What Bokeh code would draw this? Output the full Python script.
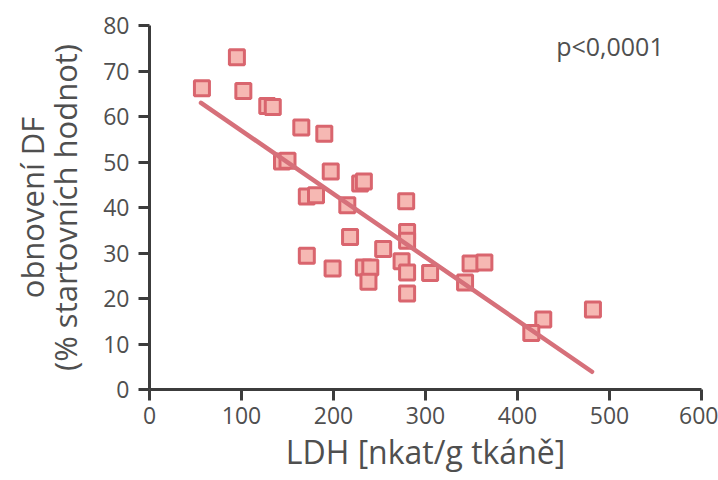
from bokeh.plotting import figure
from bokeh.models import Label, Range1d, FixedTicker
from bokeh.embed import file_html
from bokeh.resources import INLINE

# LDH [nkat/g tkáně]
ldh = [57, 95, 102, 128, 134, 165, 190, 144, 150, 197, 229, 233, 279, 171, 181,
       215, 280, 280, 218, 171, 199, 254, 233, 240, 238, 274, 280, 280, 305, 349,
       364, 343, 428, 415, 482]
# obnovení DF (% startovních hodnot)
df = [66.2, 73.0, 65.6, 62.3, 62.1, 57.6, 56.2, 50.1, 50.3, 47.9, 45.3, 45.7, 41.4, 42.4, 42.7,
      40.5, 34.6, 32.7, 33.5, 29.4, 26.6, 30.9, 26.8, 26.8, 23.7, 28.2, 25.7, 21.1, 25.6, 27.7,
      27.9, 23.5, 15.4, 12.4, 17.6]

# regression line end points
fit_x = [56, 481]
fit_y = [63.0, 3.9]

x_ticks = [0, 100, 200, 300, 400, 500, 600]
y_ticks = [0, 10, 20, 30, 40, 50, 60, 70, 80]

FONT = "Open Sans"
AX = "#3c3c3c"
TXT = "#4f4f4f"

p = figure(width=718, height=480, output_backend="svg", toolbar_location=None,
           x_range=Range1d(0, 600), y_range=Range1d(0, 80),
           min_border_left=149, min_border_right=17, min_border_top=25, min_border_bottom=91)
p.outline_line_color = None
p.xgrid.visible = False
p.ygrid.visible = False
p.background_fill_color = "white"
p.border_fill_color = "white"

p.scatter(ldh, df, marker="square", size=15, line_width=3,
          line_color="#d9656e", fill_color="#f6b8b3")
p.line(fit_x, fit_y, line_width=4.5, line_color="#d6707a", line_cap="round")

for ax in (p.xaxis[0], p.yaxis[0]):
    ax.axis_line_color = AX
    ax.axis_line_width = 3
    ax.major_tick_line_color = AX
    ax.major_tick_line_width = 3
    ax.major_tick_out = 11
    ax.major_tick_in = 0
    ax.minor_tick_line_color = None
    ax.major_label_text_font = FONT
    ax.major_label_text_font_size = "23px"
    ax.major_label_text_color = TXT
    ax.axis_label_text_font = FONT
    ax.axis_label_text_font_style = "normal"
    ax.axis_label_text_color = TXT

p.xaxis.ticker = FixedTicker(ticks=x_ticks)
p.yaxis.ticker = FixedTicker(ticks=y_ticks)
p.xaxis.major_label_standoff = 6
p.yaxis.major_label_standoff = 9
p.xaxis.axis_label = "LDH [nkat/g tkáně]"
p.yaxis.axis_label = "obnovení DF\n(% startovních hodnot)"
p.xaxis.axis_label_text_font_size = "32px"
p.yaxis.axis_label_text_font_size = "31px"
p.yaxis.axis_label_text_line_height = 0.8
p.xaxis.axis_label_standoff = 3
p.yaxis.axis_label_standoff = 14

p.add_layout(Label(x=442, y=79.2, text="p<0,0001", text_font=FONT,
                   text_font_size="25px", text_color=TXT, text_baseline="top"))

open("out.html", "w").write(file_html(p, INLINE))
